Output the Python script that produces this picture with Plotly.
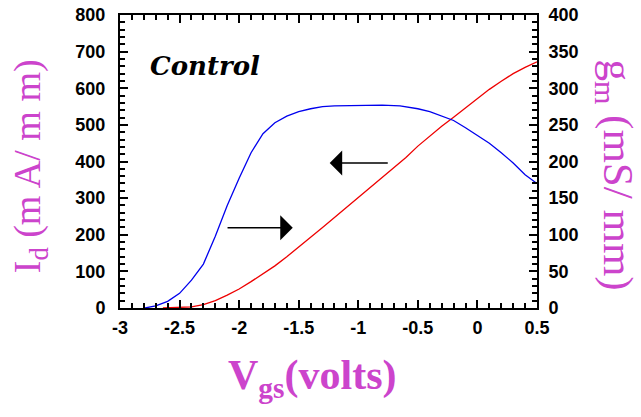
import plotly.graph_objects as go

# ---- data ----
vgs_id = [-2.64, -2.5, -2.4, -2.3, -2.2, -2.1, -2.0, -1.9, -1.8, -1.7, -1.6, -1.5, -1.4, -1.3,
          -1.2, -1.1, -1.0, -0.9, -0.8, -0.7, -0.6, -0.5, -0.4, -0.3, -0.2, -0.1, 0.0, 0.1,
          0.2, 0.3, 0.4, 0.5]
id_ma = [0, 1, 3, 9, 20, 35, 52, 72, 93, 115, 140, 166, 193, 220,
         247, 274, 301, 328, 355, 383, 411, 442, 470, 496, 521, 547, 572, 597,
         619, 640, 657, 672]

vgs_gm = [-2.79, -2.7, -2.6, -2.5, -2.4, -2.3, -2.2, -2.1, -2.0, -1.9, -1.8, -1.7, -1.6, -1.5,
          -1.4, -1.3, -1.2, -1.0, -0.8, -0.65, -0.5, -0.4, -0.3, -0.2, -0.1, 0.0, 0.1,
          0.2, 0.3, 0.4, 0.5]
gm_ms = [0, 3, 9, 20, 38, 60, 98, 140, 177, 212, 238, 253, 262, 268,
         272, 275, 276, 277, 277, 276, 272, 268, 262, 256, 246, 236, 225,
         212, 198, 182, 170]

x_ticks = [-3, -2.5, -2, -1.5, -1, -0.5, 0, 0.5]
x_ticklabels = ["-3", "-2.5", "-2", "-1.5", "-1", "-0.5", "0", "0.5"]

MAG = "#cc44cc"
tickfont = dict(family="Liberation Sans, Arial", size=18, color="black", weight="bold")

fig = go.Figure()
fig.add_trace(go.Scatter(x=vgs_id, y=id_ma, mode="lines", line=dict(color="#ee0000", width=1.3),
                         yaxis="y", showlegend=False))
fig.add_trace(go.Scatter(x=vgs_gm, y=gm_ms, mode="lines", line=dict(color="#0000ee", width=1.3),
                         yaxis="y2", showlegend=False))

fig.update_layout(
    width=641, height=417,
    margin=dict(l=120, r=103.5, t=15, b=109, autoexpand=False),
    paper_bgcolor="white", plot_bgcolor="white",
    xaxis=dict(range=[-3, 0.5], tickmode="array", tickvals=x_ticks, ticktext=x_ticklabels,
               automargin=False,
               ticks="inside", ticklen=8, tickwidth=2, tickcolor="black",
               minor=dict(tickmode="linear", dtick=0.1, ticks="inside", ticklen=5,
                          tickcolor="black", tickwidth=1.5),
               showline=True, linecolor="black", linewidth=2, mirror="ticks",
               showgrid=False, zeroline=False, tickfont=tickfont, ticklabelstandoff=2),
    yaxis=dict(range=[0, 800], tickmode="linear", tick0=0, dtick=100, ticks="inside",
               ticklen=8, tickwidth=2, tickcolor="black", automargin=False,
               minor=dict(tickmode="linear", dtick=20, ticks="inside", ticklen=5,
                          tickcolor="black", tickwidth=1.5),
               showline=True, linecolor="black", linewidth=2,
               showgrid=False, zeroline=False, tickfont=tickfont, ticklabelstandoff=9),
    yaxis2=dict(range=[0, 400], tickmode="linear", tick0=0, dtick=50, overlaying="y",
                side="right", automargin=False,
                ticks="inside", ticklen=8, tickwidth=2, tickcolor="black",
                minor=dict(tickmode="linear", dtick=10, ticks="inside", ticklen=5,
                           tickcolor="black", tickwidth=1.5),
                showline=True, linecolor="black", linewidth=2,
                showgrid=False, zeroline=False, tickfont=tickfont, ticklabelstandoff=6),
)

serif = "Liberation Serif"
fig.add_annotation(xref="paper", yref="paper", x=-0.215, y=0.485, textangle=-90,
                   text="I<sub>d</sub> (m A/ m m)", showarrow=False,
                   font=dict(family=serif, size=38, color=MAG), xanchor="center", yanchor="middle")
fig.add_annotation(xref="paper", yref="paper", x=1.186, y=0.454, textangle=90,
                   text="g<sub>m</sub> (mS/ mm)", showarrow=False,
                   font=dict(family=serif, size=43, color=MAG), xanchor="center", yanchor="middle")
fig.add_annotation(xref="paper", yref="paper", x=0.46, y=-0.239,
                   text="V<sub>gs</sub>(volts)", showarrow=False,
                   font=dict(family=serif, size=42, color=MAG, weight="bold"),
                   xanchor="center", yanchor="middle")
fig.add_annotation(xref="paper", yref="paper", x=0.205, y=0.825,
                   text="Control", showarrow=False,
                   font=dict(family="DejaVu Serif", size=26, color="black", weight="bold",
                             style="italic"),
                   xanchor="center", yanchor="middle")

# arrows
fig.add_annotation(x=-1.24, y=396, ax=-0.74, ay=396, xref="x", yref="y", axref="x", ayref="y",
                   text="", showarrow=True, arrowhead=1, arrowsize=2.6, arrowwidth=1.6, arrowcolor="black")
fig.add_annotation(x=-1.55, y=219, ax=-2.11, ay=219, xref="x", yref="y", axref="x", ayref="y",
                   text="", showarrow=True, arrowhead=1, arrowsize=2.6, arrowwidth=1.6, arrowcolor="black")

fig.write_html("out.html", config={"displayModeBar": False},
               post_script="document.body.style.margin='0px';")
